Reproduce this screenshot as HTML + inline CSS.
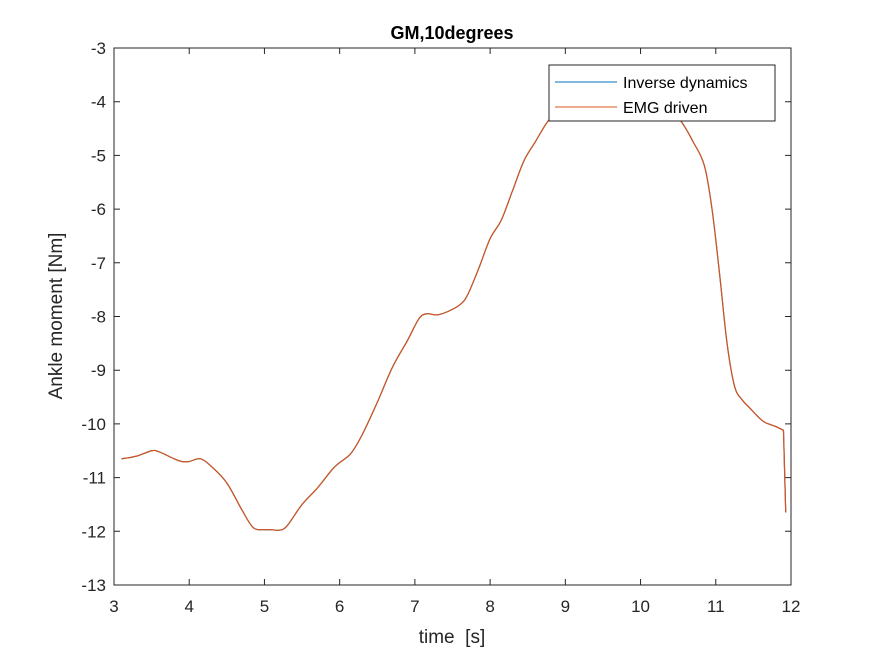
<!DOCTYPE html>
<html><head><meta charset="utf-8"><style>
body{margin:0;background:#fff;}
svg{display:block;font-family:"Liberation Sans",Arial,sans-serif;}
</style></head><body>
<svg id="chart" width="875" height="656" viewBox="0 0 875 656">
<rect width="875" height="656" fill="#fff"/>
<text x="452" y="39" text-anchor="middle" font-size="18" font-weight="bold" fill="#000">GM,10degrees</text>
<text x="452" y="643" text-anchor="middle" font-size="19" fill="#262626">time&#160;&#160;[s]</text>
<text transform="translate(62,316) rotate(-90)" text-anchor="middle" font-size="19" fill="#262626">Ankle moment [Nm]</text>
<g id="grid"></g>
<g id="series"></g>
<rect x="114" y="48" width="677" height="537" fill="none" stroke="#262626" stroke-width="1"/>
<g>
<rect x="549" y="65" width="226" height="56" fill="#fff" stroke="#262626" stroke-width="1"/>
<line x1="555" y1="82" x2="617" y2="82" stroke="#0072BD" stroke-width="1"/>
<text x="623" y="88" font-size="16" fill="#000">Inverse dynamics</text>
<line x1="555" y1="107" x2="617" y2="107" stroke="#D95319" stroke-width="1"/>
<text x="623" y="113" font-size="16" fill="#000">EMG driven</text>
</g>
</svg>
<script>
const xTicks=[3,4,5,6,7,8,9,10,11,12];
const yTicks=[-3,-4,-5,-6,-7,-8,-9,-10,-11,-12,-13];
const timeValues=[3.1,3.3,3.5,3.6,3.8,3.9,4.0,4.15,4.3,4.5,4.7,4.85,5.0,5.1,5.2,5.3,5.5,5.7,5.9,6.0,6.15,6.3,6.5,6.7,6.9,7.05,7.15,7.3,7.45,7.6,7.7,7.85,8.0,8.15,8.3,8.45,8.6,8.75,8.9,9.0,9.3,9.6,9.9,10.2,10.5,10.7,10.85,10.95,11.05,11.15,11.25,11.35,11.45,11.55,11.65,11.8,11.9,11.93];
const inverseValues=[-10.65,-10.6,-10.5,-10.52,-10.65,-10.7,-10.7,-10.65,-10.8,-11.1,-11.6,-11.93,-11.97,-11.97,-11.98,-11.9,-11.5,-11.2,-10.85,-10.72,-10.55,-10.2,-9.6,-8.95,-8.45,-8.05,-7.95,-7.97,-7.9,-7.78,-7.6,-7.1,-6.55,-6.2,-5.65,-5.1,-4.75,-4.4,-4.15,-4.0,-3.85,-3.8,-3.85,-4.0,-4.3,-4.75,-5.2,-6.0,-7.2,-8.5,-9.3,-9.55,-9.7,-9.85,-9.97,-10.05,-10.12,-11.65];
const emgValues=[-10.65,-10.6,-10.5,-10.52,-10.65,-10.7,-10.7,-10.65,-10.8,-11.1,-11.6,-11.93,-11.97,-11.97,-11.98,-11.9,-11.5,-11.2,-10.85,-10.72,-10.55,-10.2,-9.6,-8.95,-8.45,-8.05,-7.95,-7.97,-7.9,-7.78,-7.6,-7.1,-6.55,-6.2,-5.65,-5.1,-4.75,-4.4,-4.15,-4.0,-3.85,-3.8,-3.85,-4.0,-4.3,-4.75,-5.2,-6.0,-7.2,-8.5,-9.3,-9.55,-9.7,-9.85,-9.97,-10.05,-10.12,-11.65];
const NS="http://www.w3.org/2000/svg";
const X0=114,X1=791,Y0=48,Y1=585;
function xs(v){return X0+(v-3)/(12-3)*(X1-X0);}
function ys(v){return Y0+(-3-v)/10*(Y1-Y0);}
const grid=document.getElementById('grid');
xTicks.forEach(t=>{
  const x=xs(t);
  const l=document.createElementNS(NS,'path');
  l.setAttribute('d',`M${x},${Y1}v-6M${x},${Y0}v6`);
  l.setAttribute('stroke','#262626');
  
  
  grid.appendChild(l);
  const tx=document.createElementNS(NS,'text');
  tx.setAttribute('x',x);tx.setAttribute('y',Y1+27);
  tx.setAttribute('text-anchor','middle');tx.setAttribute('font-size','17');tx.setAttribute('fill','#262626');
  tx.textContent=t;
  
  
  grid.appendChild(tx);
});
yTicks.forEach(t=>{
  const y=ys(t);
  const l=document.createElementNS(NS,'path');
  l.setAttribute('d',`M${X0},${y}h6M${X1},${y}h-6`);
  l.setAttribute('stroke','#262626');
  
  
  grid.appendChild(l);
  const tx=document.createElementNS(NS,'text');
  tx.setAttribute('x',X0-8);tx.setAttribute('y',y+6);
  tx.setAttribute('text-anchor','end');tx.setAttribute('font-size','17');tx.setAttribute('fill','#262626');
  tx.textContent=t;
  
  
  grid.appendChild(tx);
});
const series=document.getElementById('series');
function smoothPath(pts){
  let d=`M${pts[0][0]},${pts[0][1]}`;
  for(let i=0;i<pts.length-1;i++){
    const p0=pts[Math.max(i-1,0)],p1=pts[i],p2=pts[i+1],p3=pts[Math.min(i+2,pts.length-1)];
    if(i>=pts.length-3){d+=`L${p2[0]},${p2[1]}`;continue;}
    const c1=[p1[0]+(p2[0]-p0[0])/6,p1[1]+(p2[1]-p0[1])/6];
    const c2=[p2[0]-(p3[0]-p1[0])/6,p2[1]-(p3[1]-p1[1])/6];
    d+=`C${c1[0]},${c1[1]} ${c2[0]},${c2[1]} ${p2[0]},${p2[1]}`;
  }
  return d;
}
function draw(vals,color,name){
  const p=document.createElementNS(NS,'path');
  p.setAttribute('d',smoothPath(timeValues.map((t,i)=>[xs(t),ys(vals[i])])));
  p.setAttribute('fill','none');p.setAttribute('stroke',color);p.setAttribute('stroke-width','1.2');
  p.setAttribute('stroke-linejoin','round');
  
  
  series.appendChild(p);
}
draw(inverseValues,'#0072BD','inverse-dynamics-line');
draw(emgValues,'#D95319','emg-driven-line');
</script>
</body></html>
